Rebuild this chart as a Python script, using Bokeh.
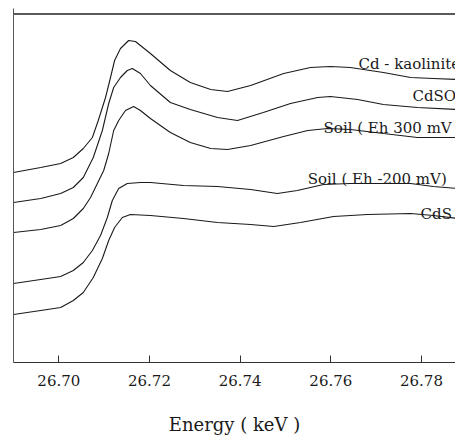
from bokeh.plotting import figure
from bokeh.models import Range1d, LinearAxis, FixedTicker, ColumnDataSource, CustomJSTickFormatter
from bokeh.core.properties import value
from bokeh.embed import file_html
from bokeh.resources import INLINE

# ---- data (energy in keV, normalized absorbance with vertical offsets) ----
kaolinite_e = [26.6900, 26.6960, 26.7004, 26.7032, 26.7054, 26.7074, 26.7087, 26.7103,
               26.7114, 26.7123, 26.7136, 26.7154, 26.7169, 26.7202, 26.7246, 26.7290,
               26.7335, 26.7372, 26.7423, 26.7496, 26.7555, 26.7599, 26.7643, 26.7716,
               26.7776, 26.7826, 26.7880]
kaolinite_a = [1.90, 1.95, 1.99, 2.05, 2.14, 2.25, 2.42, 2.65, 2.85, 3.02, 3.14, 3.22,
               3.21, 3.09, 2.92, 2.80, 2.73, 2.71, 2.77, 2.89, 2.95, 2.96, 2.95, 2.90,
               2.85, 2.84, 2.83]

cdso4_e = [26.6900, 26.6960, 26.7004, 26.7032, 26.7054, 26.7076, 26.7096, 26.7110,
           26.7121, 26.7136, 26.7151, 26.7162, 26.7180, 26.7202, 26.7246, 26.7290,
           26.7350, 26.7394, 26.7451, 26.7511, 26.7571, 26.7599, 26.7659, 26.7716,
           26.7791, 26.7880]
cdso4_a = [1.60, 1.64, 1.69, 1.75, 1.85, 2.05, 2.32, 2.59, 2.75, 2.85, 2.92, 2.94,
           2.89, 2.77, 2.60, 2.53, 2.45, 2.42, 2.50, 2.59, 2.65, 2.66, 2.63, 2.58,
           2.55, 2.53]

soil300_e = [26.6900, 26.6960, 26.7004, 26.7032, 26.7054, 26.7070, 26.7085, 26.7099,
             26.7110, 26.7121, 26.7132, 26.7147, 26.7165, 26.7180, 26.7202, 26.7246,
             26.7290, 26.7335, 26.7372, 26.7423, 26.7496, 26.7549, 26.7593, 26.7643,
             26.7716, 26.7791, 26.7880]
soil300_a = [1.30, 1.33, 1.37, 1.44, 1.54, 1.65, 1.79, 1.92, 2.09, 2.32, 2.42, 2.52,
             2.56, 2.52, 2.44, 2.30, 2.20, 2.14, 2.13, 2.17, 2.26, 2.32, 2.34, 2.33,
             2.29, 2.25, 2.25]

soil200_e = [26.6900, 26.6960, 26.7004, 26.7032, 26.7054, 26.7074, 26.7092, 26.7107,
             26.7118, 26.7132, 26.7151, 26.7180, 26.7202, 26.7275, 26.7350, 26.7423,
             26.7482, 26.7526, 26.7584, 26.7643, 26.7716, 26.7776, 26.7826, 26.7880]
soil200_a = [0.79, 0.83, 0.86, 0.92, 1.00, 1.12, 1.27, 1.45, 1.62, 1.74, 1.79, 1.80,
             1.80, 1.77, 1.76, 1.73, 1.69, 1.72, 1.78, 1.79, 1.79, 1.79, 1.76, 1.74]

cds_e = [26.6900, 26.6960, 26.7004, 26.7032, 26.7054, 26.7076, 26.7096, 26.7110,
         26.7123, 26.7140, 26.7158, 26.7202, 26.7275, 26.7350, 26.7423, 26.7474,
         26.7533, 26.7606, 26.7681, 26.7776, 26.7826, 26.7880]
cds_a = [0.48, 0.52, 0.55, 0.62, 0.70, 0.85, 1.04, 1.22, 1.35, 1.45, 1.48, 1.47,
         1.44, 1.40, 1.38, 1.36, 1.40, 1.46, 1.48, 1.49, 1.47, 1.44]

labels = ["Cd - kaolinite", "CdSO\u2084", "Soil ( Eh 300 mV )", "Soil ( Eh -200 mV)", "CdS"]
label_e = [26.7661, 26.7780, 26.7584, 26.7549, 26.7798]
label_a = [2.99, 2.67, 2.35, 1.84, 1.49]

x_ticks = [26.70, 26.72, 26.74, 26.76, 26.78]
x_title = "Energy ( keV )"
x_lo, x_hi = 26.69, 26.7875
y_lo, y_hi = 0.0, 3.54
y_top_border = 3.485

FONT = "DejaVu Serif"
INK = "#1a1a1a"

p = figure(width=455, height=440, output_backend="svg", toolbar_location=None,
           x_range=Range1d(x_lo, x_hi), y_range=Range1d(y_lo, y_hi),
           x_axis_location=None, y_axis_location=None,
           min_border_left=13, min_border_right=0, min_border_top=8, min_border_bottom=78)
p.outline_line_color = None
p.grid.visible = False
p.background_fill_color = "white"
p.border_fill_color = "white"

series = [(kaolinite_e, kaolinite_a), (cdso4_e, cdso4_a), (soil300_e, soil300_a),
          (soil200_e, soil200_a), (cds_e, cds_a)]
for e, a in series:
    p.line(e, a, line_color=INK, line_width=1.1)

# top frame border (the right border lies beyond the visible area)
p.line([x_lo - 0.01, x_hi + 0.01], [y_top_border, y_top_border],
       line_color="#222222", line_width=1.5)

src = ColumnDataSource(dict(x=label_e, y=label_a, t=labels))
p.text(x="x", y="y", text="t", source=src, text_font=value(FONT),
       text_font_size="15px", text_color=INK, text_align="left",
       text_baseline="alphabetic")

xaxis = LinearAxis(ticker=FixedTicker(ticks=x_ticks), axis_label=x_title)
xaxis.formatter = CustomJSTickFormatter(code="return tick.toFixed(2);")
xaxis.major_tick_in = 7
xaxis.major_tick_out = 0
xaxis.minor_tick_line_color = None
xaxis.axis_line_color = "#333333"
xaxis.major_tick_line_color = "#333333"
xaxis.major_label_text_font = FONT
xaxis.major_label_text_font_size = "15px"
xaxis.major_label_text_color = INK
xaxis.major_label_standoff = 12
xaxis.axis_label_text_font = FONT
xaxis.axis_label_text_font_size = "18px"
xaxis.axis_label_text_font_style = "normal"
xaxis.axis_label_text_color = INK
xaxis.axis_label_standoff = 25
p.add_layout(xaxis, "below")

yaxis = LinearAxis(ticker=FixedTicker(ticks=[]))
yaxis.major_tick_in = 0
yaxis.major_tick_out = 0
yaxis.minor_tick_line_color = None
yaxis.major_label_text_font_size = "0px"
yaxis.major_label_standoff = 0
yaxis.axis_line_color = "#555555"
p.add_layout(yaxis, "left")

open("out.html", "w").write(file_html(p, INLINE))
